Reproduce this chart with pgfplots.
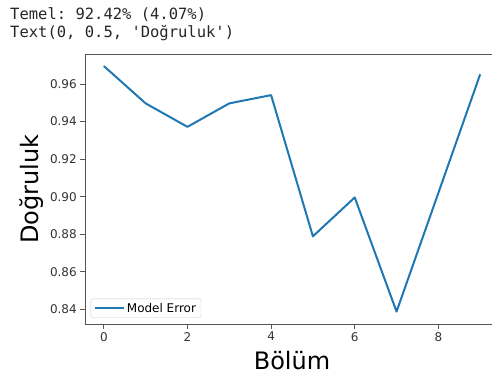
\documentclass[border=0pt]{standalone}
\usepackage{fontspec}
\setmainfont{DejaVu Sans}
\setmonofont{DejaVu Sans Mono}
\usepackage{pgfplots}
\pgfplotsset{compat=1.18}
\definecolor{mplblue}{HTML}{1F77B4}
\definecolor{spine}{HTML}{555555}
\definecolor{ticktext}{HTML}{333333}
\begin{document}
\begin{tikzpicture}[x=1pt,y=1pt]
\useasboundingbox (0,0) rectangle (492,376);
\node[anchor=base west, font=\ttfamily\fontsize{15.5}{18}\selectfont, inner sep=0pt, text=black!85] at (10,356.7) {Temel: 92.42\% (4.07\%)};
\node[anchor=base west, font=\ttfamily\fontsize{15.5}{18}\selectfont, inner sep=0pt, text=black!85] at (10,338.3) {Text(0, 0.5, 'Doğruluk')};
\begin{axis}[
  at={(85pt,52pt)}, anchor=south west,
  scale only axis, width=414pt, height=270pt,
  xmin=-0.45, xmax=9.45, ymin=0.8322, ymax=0.976,
  xtick={0,2,4,6,8},
  ytick={0.84,0.86,0.88,0.90,0.92,0.94,0.96},
  tick align=outside, xtick pos=bottom, ytick pos=left,
  major tick length=4.7pt,
  every tick/.style={spine, line width=0.8pt},
  axis line style={spine, line width=1pt},
  /pgf/number format/assume math mode=true,
  yticklabel style={/pgf/number format/.cd, fixed, fixed zerofill, precision=2},
  xticklabel style={/pgf/number format/.cd, fixed, precision=0},
  tick label style={font=\fontsize{12}{14}\selectfont, text=ticktext},
  xlabel={Bölüm}, ylabel={Doğruluk},
  label style={font=\fontsize{24}{28}\selectfont, text=black},
  xlabel style={at={(axis description cs:0.5,0)}, anchor=base, yshift=-45pt},
  ylabel style={at={(axis description cs:-0.128,0.5)}, anchor=center},
  legend style={at={(axis description cs:0,0)}, anchor=south west, xshift=5.7pt, yshift=6.3pt,
    draw=black!20, rounded corners=2pt, fill=white, font=\fontsize{12}{14}\selectfont,
    inner xsep=3pt, inner ysep=2pt},
  legend cell align=left,
  legend image code/.code={\draw[mplblue, line width=2pt] (0pt,0pt) -- (29pt,0pt);},
]
\addplot[mplblue, line width=2pt, line join=round] coordinates {
  (0,0.9696) (1,0.9497) (2,0.9372) (3,0.9497) (4,0.9541)
  (5,0.8789) (6,0.8996) (7,0.8388) (8,0.9020) (9,0.9652)
};
\addlegendentry{Model Error}
\end{axis}
\end{tikzpicture}
\end{document}
